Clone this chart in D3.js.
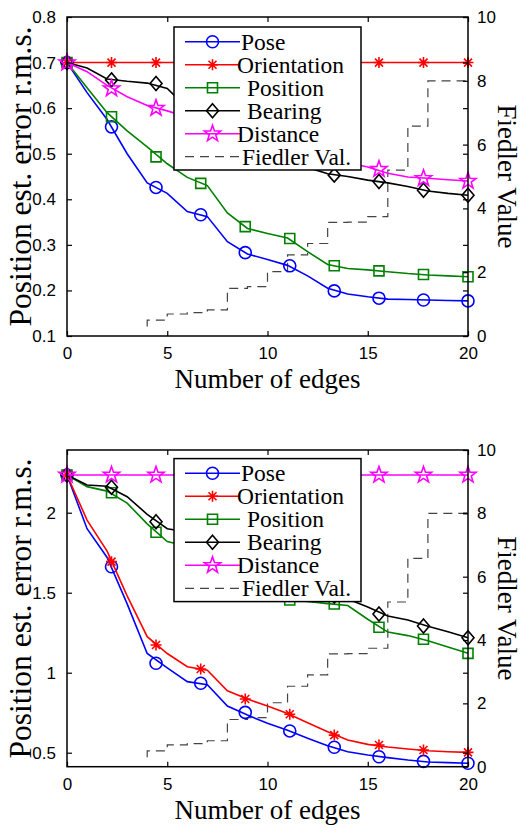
<!DOCTYPE html>
<html>
<head>
<meta charset="utf-8">
<script src="https://cdn.jsdelivr.net/npm/d3@7"></script>
<style>
body { margin: 0; background: #fff; }
</style>
</head>
<body>
<script>
// ---- data ----
var edges = [0, 1, 2, 3, 4, 5, 6, 7, 8, 9, 10, 11, 12, 13, 14, 15, 16, 17, 18, 19, 20];
var markerEdges = [0, 2.22, 4.44, 6.67, 8.89, 11.11, 13.33, 15.56, 17.78, 20];

var fiedlerEdges = [4, 4, 5, 6, 7, 8, 9, 10, 11, 12, 13, 14, 15, 16, 17, 18, 19, 20];
var fiedlerVals = [0.3, 0.5, 0.69, 0.73, 0.82, 1.49, 1.55, 2.02, 2.54, 2.9, 3.56, 3.57, 3.74, 5.2, 6.58, 8.0, 8.0, 8.0];

// top panel
var topPose = [0.700, 0.634, 0.575, 0.500, 0.436, 0.413, 0.373, 0.362, 0.307, 0.280, 0.268, 0.255, 0.232, 0.205, 0.192, 0.186, 0.181, 0.180, 0.179, 0.178, 0.177];
var topPoseM = [0.700, 0.559, 0.426, 0.366, 0.283, 0.254, 0.199, 0.183, 0.179, 0.177];
var topOrient = [0.7, 0.7, 0.7, 0.7, 0.7, 0.7, 0.7, 0.7, 0.7, 0.7, 0.7, 0.7, 0.7, 0.7, 0.7, 0.7, 0.7, 0.7, 0.7, 0.7, 0.7];
var topOrientM = [0.7, 0.7, 0.7, 0.7, 0.7, 0.7, 0.7, 0.7, 0.7, 0.7];
var topPosition = [0.700, 0.645, 0.590, 0.550, 0.515, 0.478, 0.448, 0.430, 0.370, 0.336, 0.325, 0.315, 0.285, 0.257, 0.248, 0.245, 0.241, 0.237, 0.234, 0.232, 0.230];
var topPositionM = [0.700, 0.581, 0.493, 0.435, 0.340, 0.314, 0.254, 0.243, 0.235, 0.230];
var topBearing = [0.700, 0.688, 0.664, 0.659, 0.655, 0.643, 0.600, 0.580, 0.550, 0.530, 0.510, 0.490, 0.470, 0.456, 0.450, 0.442, 0.436, 0.428, 0.418, 0.413, 0.409];
var topBearingM = [0.700, 0.662, 0.654, 0.587, 0.532, 0.488, 0.453, 0.439, 0.420, 0.409];
var topDistance = [0.700, 0.680, 0.650, 0.625, 0.606, 0.594, 0.580, 0.565, 0.550, 0.535, 0.520, 0.510, 0.500, 0.492, 0.480, 0.471, 0.457, 0.449, 0.446, 0.443, 0.440];
var topDistanceM = [0.700, 0.643, 0.600, 0.575, 0.537, 0.509, 0.489, 0.466, 0.446, 0.440];

// bottom panel
var botPose = [2.236, 1.900, 1.720, 1.430, 1.120, 1.030, 0.944, 0.925, 0.792, 0.735, 0.684, 0.640, 0.590, 0.544, 0.506, 0.486, 0.469, 0.454, 0.442, 0.438, 0.434];
var botPoseM = [2.236, 1.662, 1.059, 0.934, 0.752, 0.636, 0.534, 0.475, 0.446, 0.434];
var botOrient = [2.236, 1.954, 1.760, 1.480, 1.225, 1.120, 1.037, 1.015, 0.887, 0.835, 0.792, 0.745, 0.687, 0.631, 0.579, 0.552, 0.536, 0.523, 0.512, 0.506, 0.502];
var botOrientM = [2.236, 1.694, 1.173, 1.023, 0.836, 0.740, 0.610, 0.548, 0.517, 0.502];
var botPosition = [2.236, 2.163, 2.135, 2.060, 1.930, 1.820, 1.790, 1.720, 1.630, 1.550, 1.490, 1.455, 1.445, 1.432, 1.420, 1.334, 1.254, 1.232, 1.200, 1.160, 1.121];
var botPositionM = [2.236, 2.125, 1.878, 1.743, 1.559, 1.454, 1.429, 1.284, 1.209, 1.121];
var botBearing = [2.236, 2.173, 2.165, 2.100, 1.990, 1.900, 1.880, 1.860, 1.800, 1.720, 1.640, 1.570, 1.530, 1.490, 1.460, 1.410, 1.354, 1.329, 1.290, 1.256, 1.219];
var botBearingM = [2.236, 2.159, 1.944, 1.867, 1.710, 1.562, 1.480, 1.367, 1.292, 1.219];
var botDistance = [2.236, 2.236, 2.236, 2.236, 2.236, 2.236, 2.236, 2.236, 2.236, 2.236, 2.236, 2.236, 2.236, 2.236, 2.236, 2.236, 2.236, 2.236, 2.236, 2.236, 2.236];
var botDistanceM = [2.236, 2.236, 2.236, 2.236, 2.236, 2.236, 2.236, 2.236, 2.236, 2.236];

var legendLabels = ['Pose', 'Orientation', 'Position', 'Bearing', 'Distance', 'Fiedler Val.'];
var xTicks = [0, 5, 10, 15, 20];
var fiedlerTicks = [0, 2, 4, 6, 8, 10];
var topTicks = [0.1, 0.2, 0.3, 0.4, 0.5, 0.6, 0.7, 0.8];
var botTicks = [0.5, 1, 1.5, 2];

// ---- layout ----
var width = 524, height = 825;
var xLeft = 67, xRight = 468;
var serif = '"Liberation Serif", "Times New Roman", serif';
var sans = '"Liberation Sans", Arial, sans-serif';
var colors = ['#0000ff', '#ff0000', '#008000', '#000000', '#ff00ff'];
var markers = ['circle', 'asterisk', 'square', 'diamond', 'star'];
var legendTextDx = [0, -4, 6, 6, -4, 1];

var panels = [
	{ top: 17, bottom: 336, domain: [0.1, 0.8], ticks: topTicks, fmt: d3.format('.1f'), legendTop: 27,
	  lines: [topPose, topOrient, topPosition, topBearing, topDistance],
	  marks: [topPoseM, topOrientM, topPositionM, topBearingM, topDistanceM] },
	{ top: 450, bottom: 766.7, domain: [0.4125, 2.392], ticks: botTicks, fmt: d => String(d), legendTop: 458.6,
	  lines: [botPose, botOrient, botPosition, botBearing, botDistance],
	  marks: [botPoseM, botOrientM, botPositionM, botBearingM, botDistanceM] }
];

function markerPath(type) {
	if (type == 'circle') return d3.symbol(d3.symbolCircle, Math.PI * 36)();
	if (type == 'square') return 'M-5,-5H5V5H-5Z';
	if (type == 'diamond') return 'M0,-7L6,0L0,7L-6,0Z';
	if (type == 'asterisk') return 'M-5.5,0H5.5M0,-5.5V5.5M-4,-4L4,4M-4,4L4,-4';
	// pentagram
	var pts = [];
	for (var k = 0; k < 10; k++) {
		var r = k % 2 == 0 ? 8.5 : 3.4;
		var a = -Math.PI / 2 + k * Math.PI / 5;
		pts.push([r * Math.cos(a), r * Math.sin(a)]);
	}
	return 'M' + pts.join('L') + 'Z';
}

var svg = d3.select('body').append('svg').attr('width', width).attr('height', height);

panels.forEach(function (p) {
	var x = d3.scaleLinear().domain([0, 20]).range([xLeft, xRight]);
	var y = d3.scaleLinear().domain(p.domain).range([p.bottom, p.top]);
	var yf = d3.scaleLinear().domain([0, 10]).range([p.bottom, p.top]);
	var g = svg.append('g');

	// fiedler staircase
	g.append('path')
		.datum(fiedlerEdges.map((e, i) => [e, fiedlerVals[i]]))
		.attr('d', d3.line().x(d => x(d[0])).y(d => yf(d[1])).curve(d3.curveStepAfter))
		.attr('fill', 'none').attr('stroke', '#444').attr('stroke-width', 1.2)
		.attr('stroke-dasharray', '9,6');

	// series lines + markers
	p.lines.forEach(function (vals, s) {
		g.append('path')
			.datum(vals)
			.attr('d', d3.line().x((d, i) => x(edges[i])).y(d => y(d)))
			.attr('fill', 'none').attr('stroke', colors[s]).attr('stroke-width', 1.6);
		g.selectAll(null).data(p.marks[s]).enter().append('path')
			.attr('transform', (d, i) => 'translate(' + x(markerEdges[i]) + ',' + y(d) + ')')
			.attr('d', markerPath(markers[s]))
			.attr('fill', 'none').attr('stroke', colors[s]).attr('stroke-width', 1.6);
	});

	// axes
	var ax = svg.append('g').attr('font-family', sans).attr('font-size', 17);
	ax.append('rect').attr('x', xLeft).attr('y', p.top).attr('width', xRight - xLeft).attr('height', p.bottom - p.top)
		.attr('fill', 'none').attr('stroke', '#000').attr('stroke-width', 1.5);

	ax.append('g').attr('transform', 'translate(0,' + p.bottom + ')')
		.call(d3.axisBottom(x).tickValues(xTicks).tickSizeInner(-5).tickSizeOuter(0).tickPadding(11));
	ax.append('g').attr('transform', 'translate(0,' + p.top + ')')
		.call(d3.axisTop(x).tickValues(xTicks).tickSizeInner(-5).tickSizeOuter(0).tickFormat(''));
	ax.append('g').attr('transform', 'translate(' + xLeft + ',0)')
		.call(d3.axisLeft(y).tickValues(p.ticks).tickFormat(p.fmt).tickSizeInner(-5).tickSizeOuter(0).tickPadding(11));
	ax.append('g').attr('transform', 'translate(' + xRight + ',0)')
		.call(d3.axisRight(y).tickValues(p.ticks).tickSizeInner(-5).tickSizeOuter(0).tickFormat(''));
	ax.append('g').attr('transform', 'translate(' + xRight + ',0)')
		.call(d3.axisRight(yf).tickValues(fiedlerTicks).tickSizeInner(-5).tickSizeOuter(0).tickPadding(9));
	ax.selectAll('.domain').remove();
	ax.selectAll('.tick line').attr('stroke-width', 1.2);
	ax.selectAll('.tick text').attr('font-family', sans).attr('font-size', 17).attr('fill', '#000');

	// axis titles
	var mid = (p.top + p.bottom) / 2;
	svg.append('text').attr('transform', 'translate(31,' + mid + ') rotate(-90)')
		.attr('text-anchor', 'middle').attr('font-family', serif).attr('font-size', 31.5)
		.text('Position est. error r.m.s.');
	svg.append('text').attr('transform', 'translate(498,' + mid + ') rotate(90)')
		.attr('text-anchor', 'middle').attr('font-family', serif).attr('font-size', 27)
		.text('Fiedler Value');
	svg.append('text').attr('x', (xLeft + xRight) / 2).attr('y', p.bottom + 52)
		.attr('text-anchor', 'middle').attr('font-family', serif).attr('font-size', 27)
		.text('Number of edges');

	// legend
	var lg = svg.append('g').attr('transform', 'translate(174,' + p.legendTop + ')');
	lg.append('rect').attr('width', 187).attr('height', 143)
		.attr('fill', '#fff').attr('stroke', '#000').attr('stroke-width', 1.5);
	legendLabels.forEach(function (lab, i) {
		var ry = 14.7 + i * 23;
		if (i < 5) {
			lg.append('line').attr('x1', 11).attr('x2', 66).attr('y1', ry).attr('y2', ry)
				.attr('stroke', colors[i]).attr('stroke-width', 1.6);
			lg.append('path').attr('transform', 'translate(38.5,' + ry + ')').attr('d', markerPath(markers[i]))
				.attr('fill', 'none').attr('stroke', colors[i]).attr('stroke-width', 1.6);
		} else {
			lg.append('line').attr('x1', 11).attr('x2', 66).attr('y1', ry).attr('y2', ry)
				.attr('stroke', '#444').attr('stroke-width', 1.2).attr('stroke-dasharray', '9,6');
		}
		lg.append('text').attr('x', 67 + legendTextDx[i]).attr('y', ry + 8)
			.attr('font-family', serif).attr('font-size', 23.5).text(lab);
	});
});
</script>
</body>
</html>
